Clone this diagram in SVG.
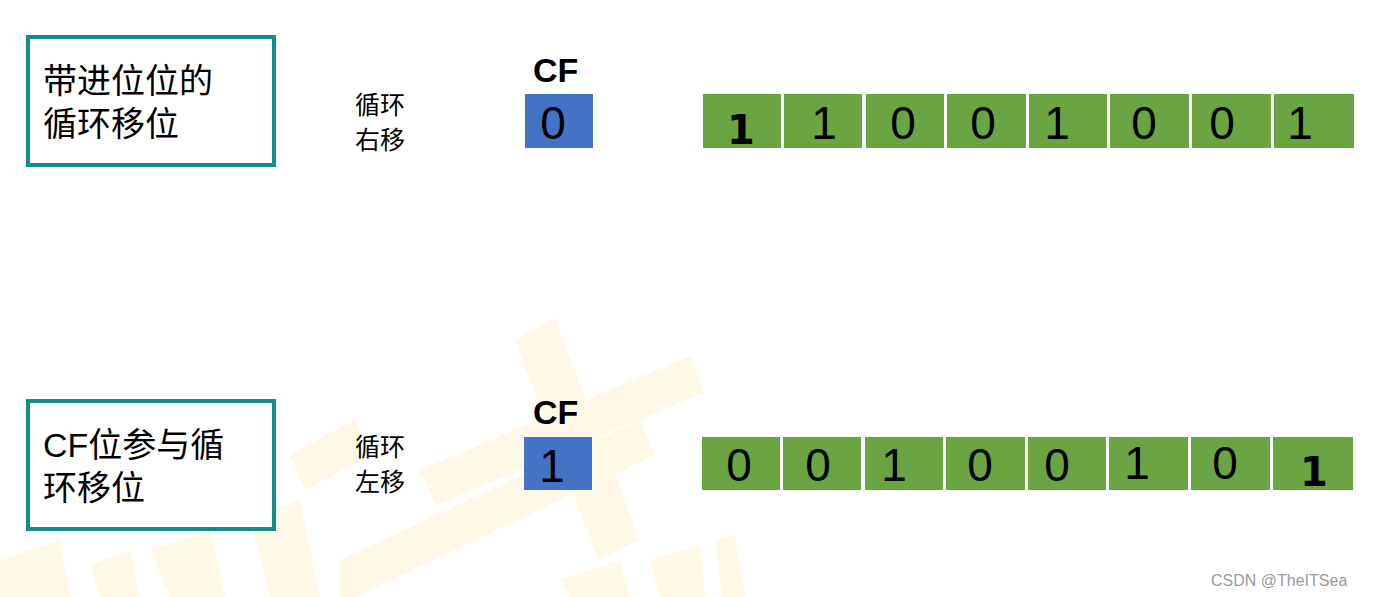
<svg xmlns="http://www.w3.org/2000/svg" width="1378" height="597" viewBox="0 0 1378 597">
<style>
.wm{fill:#FFF8E6}
.box{fill:#fff;stroke:#138D87;stroke-width:4}
.t{font-family:"Liberation Sans","Noto Sans CJK SC",sans-serif;fill:#000}
.big{font-size:34px}
.lbl{font-size:25px}
.cf{font-size:34px;font-weight:bold}
.blue{fill:#4472C4}
.green{fill:#6BA543}
.d{font-family:"Liberation Sans",sans-serif;font-size:46px;text-anchor:middle;fill:#000}
.db{font-family:"DejaVu Sans","Liberation Sans",sans-serif;font-size:40px;font-weight:bold;text-anchor:middle;fill:#000}
.wmt{font-family:"Liberation Sans",sans-serif;font-size:16px;fill:#9a9a9a}
</style>
<g id="watermark">
<polygon class="wm" points="515,340 555,318 640,540 598,560"/>
<polygon class="wm" points="420,470 690,356 705,392 436,505"/>
<polygon class="wm" points="290,455 355,420 370,455 305,490"/>
<polygon class="wm" points="340,560 640,420 655,455 355,597 340,597"/>
<polygon class="wm" points="250,520 300,500 320,597 270,597"/>
<polygon class="wm" points="0,560 60,540 70,597 0,597"/>
<polygon class="wm" points="90,565 130,550 140,597 100,597"/>
<polygon class="wm" points="150,550 210,530 225,597 170,597"/>
<polygon class="wm" points="560,580 620,560 630,597 570,597"/>
<polygon class="wm" points="650,560 700,545 705,597 660,597"/>
<polygon class="wm" points="715,540 735,535 745,597 722,597"/>
</g>
<g id="box1">
<rect class="box" x="28" y="37" width="246" height="128"/>
<text class="t big" x="43" y="93">带进位位的</text>
<text class="t big" x="43" y="136">循环移位</text>
</g>
<g id="label1">
<text class="t lbl" x="355" y="114">循环</text>
<text class="t lbl" x="355" y="149">右移</text>
</g>
<g id="cf1">
<text class="t cf" x="533" y="82">CF</text>
<rect class="blue" x="525" y="94" width="68" height="54"/>
<text class="d" x="553" y="139">0</text>
</g>
<g id="reg1">
<rect class="green" x="703" y="94" width="78" height="54"/>
<rect class="green" x="784" y="94" width="78" height="54"/>
<rect class="green" x="866" y="94" width="78" height="54"/>
<rect class="green" x="947" y="94" width="79" height="54"/>
<rect class="green" x="1029" y="94" width="78" height="54"/>
<rect class="green" x="1110" y="94" width="79" height="54"/>
<rect class="green" x="1192" y="94" width="79" height="54"/>
<rect class="green" x="1274" y="94" width="80" height="54"/>
<text class="db" x="741" y="144">1</text>
<text class="d" x="824" y="139">1</text>
<text class="d" x="903" y="139">0</text>
<text class="d" x="983" y="139">0</text>
<text class="d" x="1057" y="139">1</text>
<text class="d" x="1144" y="139">0</text>
<text class="d" x="1222" y="139">0</text>
<text class="d" x="1300" y="139">1</text>
</g>
<g id="box2">
<rect class="box" x="28" y="401" width="246" height="128"/>
<text class="t big" x="43" y="457">CF位参与循</text>
<text class="t big" x="43" y="500">环移位</text>
</g>
<g id="label2">
<text class="t lbl" x="355" y="456">循环</text>
<text class="t lbl" x="355" y="491">左移</text>
</g>
<g id="cf2">
<text class="t cf" x="533" y="424">CF</text>
<rect class="blue" x="524" y="437" width="68" height="53"/>
<text class="d" x="552" y="482">1</text>
</g>
<g id="reg2">
<rect class="green" x="702" y="437" width="78" height="53"/>
<rect class="green" x="783" y="437" width="78" height="53"/>
<rect class="green" x="865" y="437" width="78" height="53"/>
<rect class="green" x="946" y="437" width="79" height="53"/>
<rect class="green" x="1028" y="437" width="78" height="53"/>
<rect class="green" x="1109" y="437" width="79" height="53"/>
<rect class="green" x="1191" y="437" width="79" height="53"/>
<rect class="green" x="1273" y="437" width="80" height="53"/>
<text class="d" x="739" y="481">0</text>
<text class="d" x="818" y="481">0</text>
<text class="d" x="894" y="481">1</text>
<text class="d" x="980" y="481">0</text>
<text class="d" x="1057" y="481">0</text>
<text class="d" x="1137" y="479">1</text>
<text class="d" x="1225" y="479">0</text>
<text class="db" x="1314" y="486">1</text>
</g>
<text class="wmt" x="1211" y="586">CSDN @TheITSea</text>
</svg>
